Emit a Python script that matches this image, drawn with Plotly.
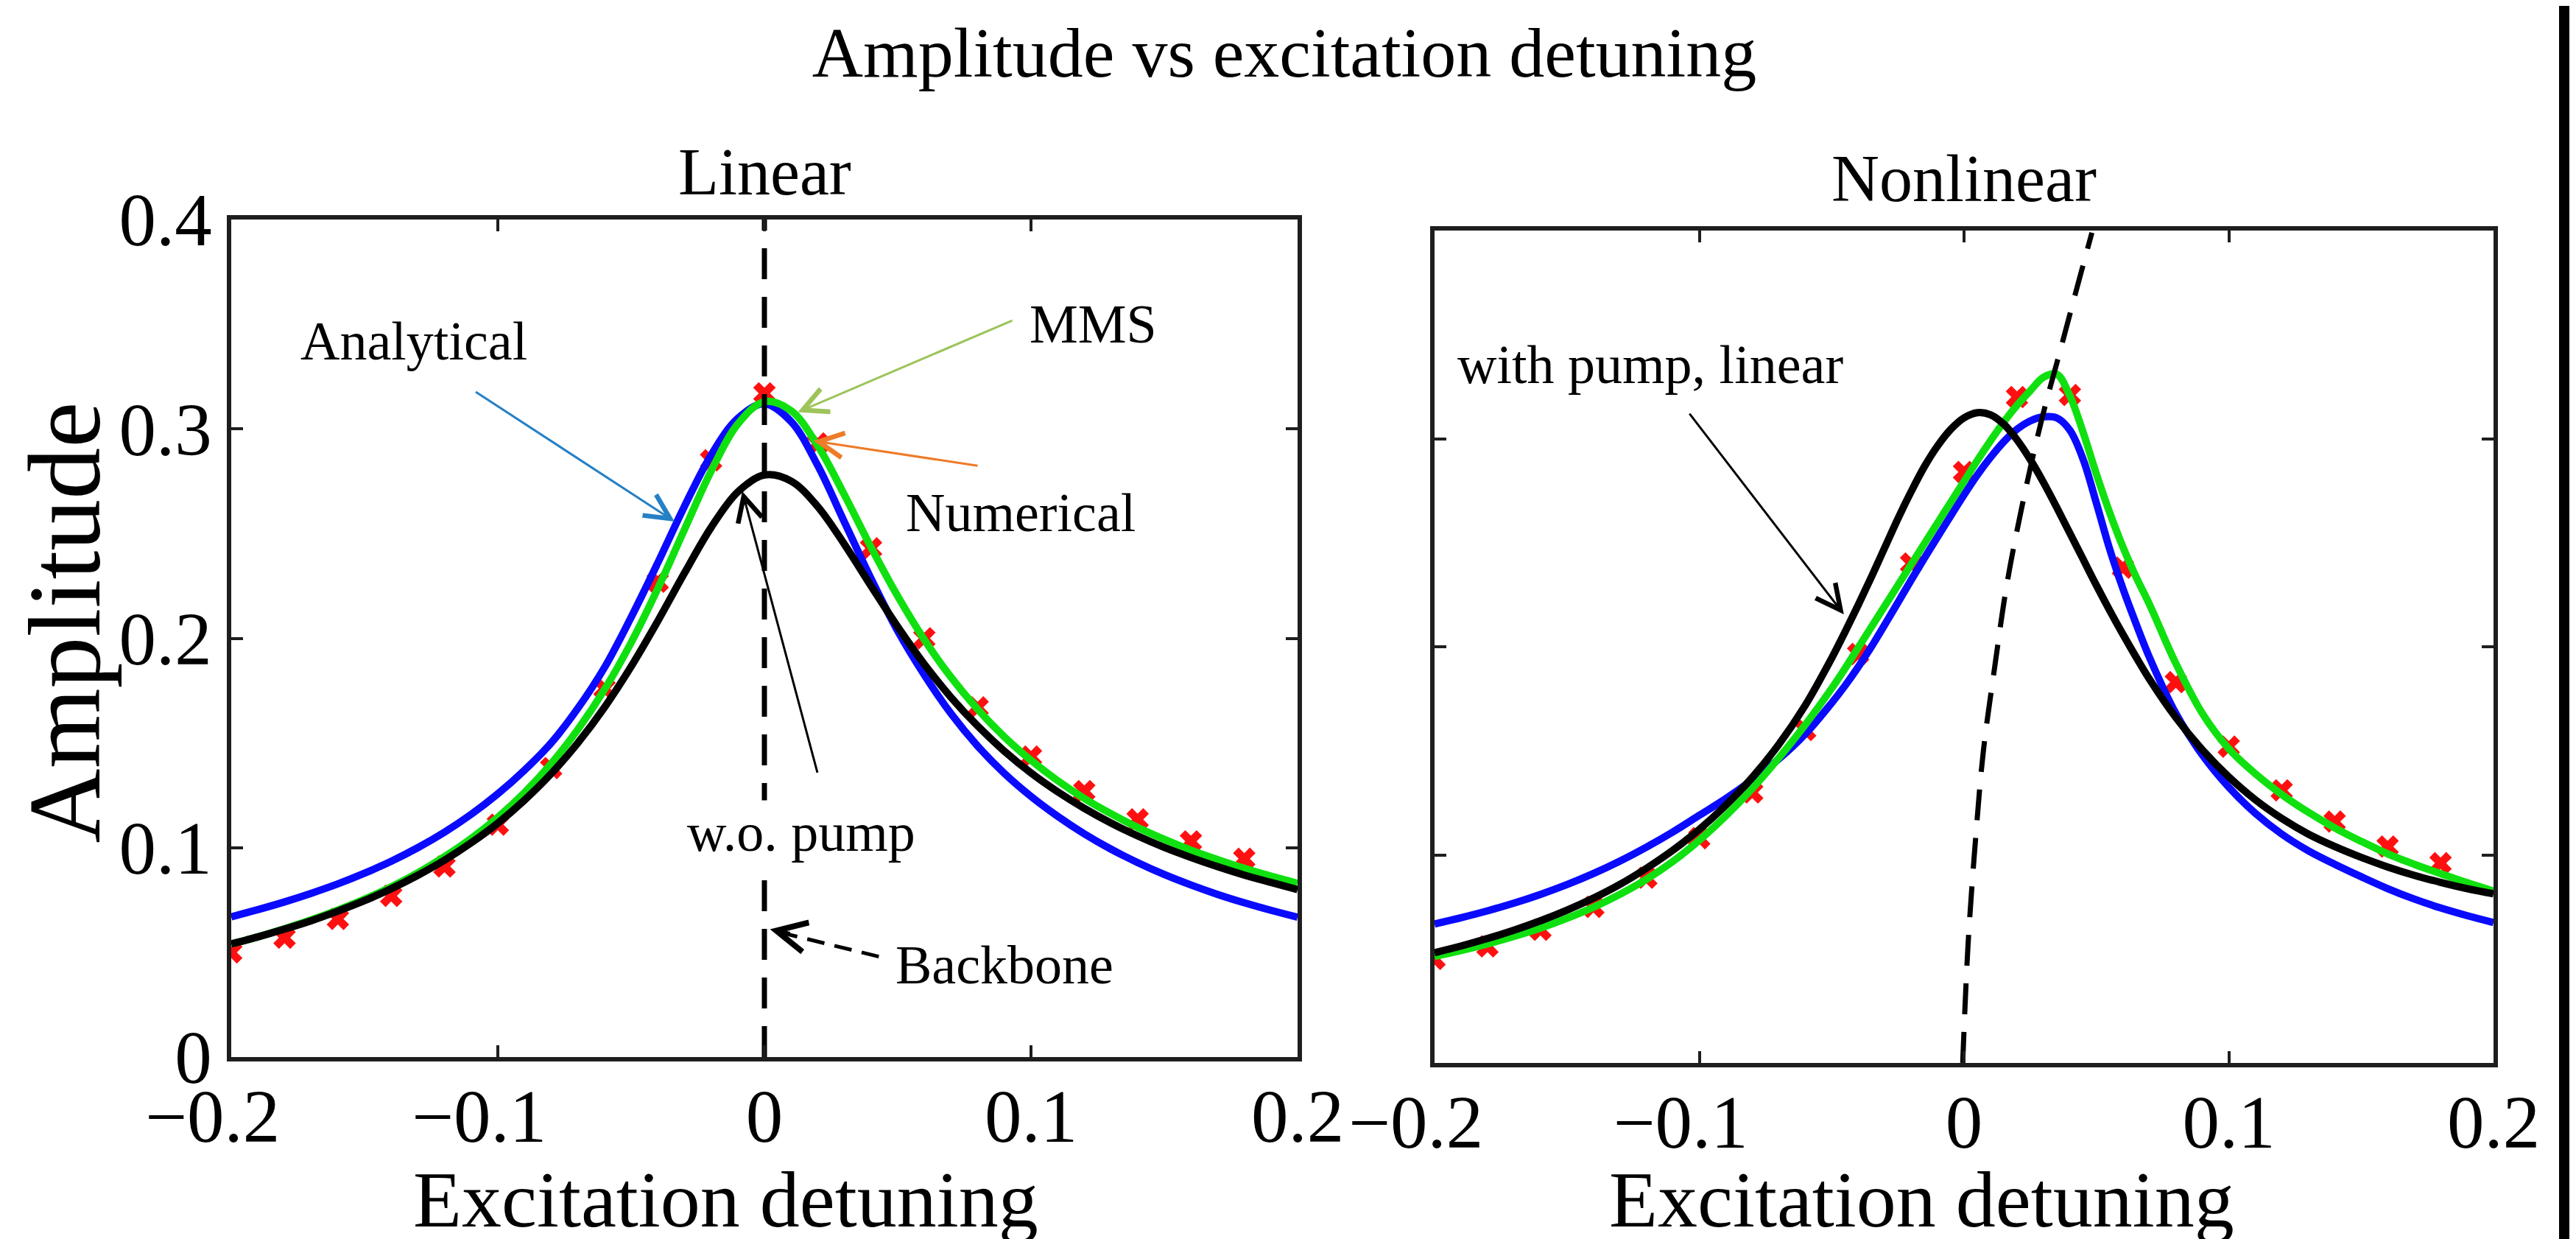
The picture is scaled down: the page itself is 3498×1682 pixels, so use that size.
import plotly.graph_objects as go

# ------------------------------------------------------------------
# Data
# ------------------------------------------------------------------
# Linear panel: detuning grid of the curves
x_lin = [-0.20, -0.19, -0.18, -0.17, -0.16, -0.15, -0.14, -0.13, -0.12, -0.11,
         -0.10, -0.09, -0.08, -0.07, -0.06, -0.05, -0.04, -0.03, -0.02, -0.01,
         0.00, 0.01, 0.02, 0.03, 0.04, 0.05, 0.06, 0.07, 0.08, 0.09,
         0.10, 0.11, 0.12, 0.13, 0.14, 0.15, 0.16, 0.17, 0.18, 0.19, 0.20]

analytical_lin = [0.0670, 0.0704, 0.0741, 0.0782, 0.0827, 0.0878, 0.0935, 0.1000, 0.1074, 0.1159,
                  0.1257, 0.1370, 0.1500, 0.1665, 0.1860, 0.2100, 0.2360, 0.2630, 0.2875, 0.3050,
                  0.3120, 0.3035, 0.2825, 0.2555, 0.2285, 0.2035, 0.1825, 0.1640, 0.1485, 0.1355,
                  0.1245, 0.1150, 0.1066, 0.0993, 0.0929, 0.0872, 0.0822, 0.0777, 0.0737, 0.0701, 0.0668]

mms_lin = [0.0540, 0.0574, 0.0613, 0.0655, 0.0702, 0.0754, 0.0813, 0.0880, 0.0957, 0.1044,
           0.1145, 0.1263, 0.1401, 0.1564, 0.1755, 0.1979, 0.2237, 0.2519, 0.2798, 0.3023,
           0.3130, 0.3087, 0.2920, 0.2685, 0.2435, 0.2201, 0.1993, 0.1814, 0.1661, 0.1529,
           0.1417, 0.1320, 0.1235, 0.1162, 0.1097, 0.1040, 0.0988, 0.0943, 0.0901, 0.0864, 0.0830]

wo_pump_lin = [0.0540, 0.0574, 0.0611, 0.0651, 0.0697, 0.0747, 0.0804, 0.0868, 0.0940, 0.1023,
               0.1117, 0.1227, 0.1353, 0.1500, 0.1670, 0.1865, 0.2082, 0.2311, 0.2529, 0.2699,
               0.2780, 0.2751, 0.2629, 0.2449, 0.2250, 0.2055, 0.1876, 0.1718, 0.1581, 0.1461,
               0.1357, 0.1267, 0.1188, 0.1118, 0.1056, 0.1001, 0.0953, 0.0909, 0.0869, 0.0834, 0.0800]

# Numerical (red crosses), same detunings in both panels
x_num = [-0.20, -0.18, -0.16, -0.14, -0.12, -0.10, -0.08, -0.06, -0.04, -0.02,
         0.00, 0.02, 0.04, 0.06, 0.08, 0.10, 0.12, 0.14, 0.16, 0.18]
numerical_lin = [0.0500, 0.0570, 0.0660, 0.0770, 0.0910, 0.1110, 0.1380, 0.1760, 0.2270, 0.2850,
                 0.3170, 0.2930, 0.2430, 0.2000, 0.1670, 0.1435, 0.1270, 0.1135, 0.1030, 0.0947]

backbone_lin_x = [0.0, 0.0]
backbone_lin_y = [0.0, 0.4]

# Nonlinear panel
x_nl = [-0.20, -0.19, -0.18, -0.17, -0.16, -0.15, -0.14, -0.13, -0.12, -0.11,
        -0.10, -0.09, -0.08, -0.07, -0.06,
        -0.050, -0.045, -0.040, -0.035, -0.030, -0.025, -0.020, -0.015, -0.010, -0.005,
        0.000, 0.005, 0.010, 0.015, 0.020, 0.025, 0.030, 0.035, 0.040, 0.045,
        0.050, 0.055, 0.060, 0.065, 0.070,
        0.08, 0.09, 0.10, 0.11, 0.12, 0.13, 0.14, 0.15, 0.16, 0.17, 0.18, 0.19, 0.20]

analytical_nl = [0.0668, 0.0698, 0.0731, 0.0768, 0.0810, 0.0857, 0.0910, 0.0970, 0.1037, 0.1110,
                 0.1190, 0.1270, 0.1360, 0.1460, 0.1580,
                 0.1730, 0.1812, 0.1902, 0.2000, 0.2105, 0.2212, 0.2320, 0.2425, 0.2528, 0.2630,
                 0.2730, 0.2825, 0.2910, 0.2985, 0.3045, 0.3085, 0.3105, 0.3100, 0.3040, 0.2900,
                 0.2690, 0.2470, 0.2280, 0.2110, 0.1950,
                 0.1680, 0.1480, 0.1325, 0.1200, 0.1100, 0.1020, 0.0955, 0.0895, 0.0838, 0.0788,
                 0.0745, 0.0708, 0.0675]

mms_nl = [0.0512, 0.0540, 0.0572, 0.0608, 0.0648, 0.0695, 0.0748, 0.0810, 0.0882, 0.0968,
          0.1070, 0.1187, 0.1318, 0.1465, 0.1625,
          0.1800, 0.1895, 0.1995, 0.2095, 0.2195, 0.2295, 0.2395, 0.2495, 0.2595, 0.2695,
          0.2795, 0.2895, 0.2990, 0.3080, 0.3160, 0.3230, 0.3295, 0.3310, 0.3205, 0.3030,
          0.2830, 0.2645, 0.2480, 0.2335, 0.2205,
          0.1920, 0.1680, 0.1510, 0.1390, 0.1290, 0.1205, 0.1130, 0.1065, 0.1005, 0.0955,
          0.0910, 0.0866, 0.0826]

pump_linear_nl = [0.0530, 0.0562, 0.0598, 0.0638, 0.0683, 0.0734, 0.0792, 0.0858, 0.0935, 0.1022,
                  0.1122, 0.1238, 0.1372, 0.1530, 0.1718,
                  0.1945, 0.2070, 0.2200, 0.2335, 0.2475, 0.2615, 0.2745, 0.2865, 0.2965, 0.3045,
                  0.3100, 0.3125, 0.3115, 0.3070, 0.2995, 0.2900, 0.2790, 0.2670, 0.2545, 0.2420,
                  0.2295, 0.2175, 0.2060, 0.1950, 0.1845,
                  0.1660, 0.1505, 0.1375, 0.1265, 0.1175, 0.1100, 0.1040, 0.0988, 0.0942, 0.0902,
                  0.0868, 0.0838, 0.0813]

numerical_nl = [0.0500, 0.0560, 0.0640, 0.0750, 0.0890, 0.1080, 0.1300, 0.1600, 0.1965, 0.2400,
                0.2840, 0.3200, 0.3210, 0.2380, 0.1830, 0.1520, 0.1310, 0.1160, 0.1040, 0.0960]

backbone_nl_x = [-0.0005, 0.0015, 0.0044, 0.0073, 0.0117, 0.0161, 0.0219, 0.0293, 0.0366, 0.0424, 0.0483]
backbone_nl_y = [0.0000, 0.0564, 0.1083, 0.1498, 0.1913, 0.2294, 0.2675, 0.3090, 0.3436, 0.3713, 0.3990]

x_tick_vals = [-0.2, -0.1, 0.0, 0.1, 0.2]
x_tick_text = ["\u22120.2\u2002", "\u22120.1\u2002", "0", "0.1", "0.2"]
y_tick_vals = [0.0, 0.1, 0.2, 0.3, 0.4]
y_tick_text = ["0", "0.1", "0.2", "0.3", "0.4"]

# ------------------------------------------------------------------
# Styling
# ------------------------------------------------------------------
FONT = "Liberation Serif, Times New Roman, serif"
W, H = 3498, 1682
ML, MR, MT, MB = 306, 120, 290, 247
BLUE = "#0a0aff"
GREEN = "#10e010"
RED = "#ff1010"
LW = 10
DASH = "42px,24px"

fig = go.Figure()

panels = [
    ("x", "y", x_lin, analytical_lin, mms_lin, wo_pump_lin, numerical_lin, backbone_lin_x, backbone_lin_y),
    ("x2", "y2", x_nl, analytical_nl, mms_nl, pump_linear_nl, numerical_nl, backbone_nl_x, backbone_nl_y),
]
for xa, ya, xs, blue, green, black, red, bbx, bby in panels:
    fig.add_trace(go.Scatter(x=x_num, y=red, mode="markers", xaxis=xa, yaxis=ya,
                             marker=dict(symbol="x", size=27, color=RED), showlegend=False))
    fig.add_trace(go.Scatter(x=xs, y=blue, mode="lines", xaxis=xa, yaxis=ya, line_shape="spline",
                             line=dict(color=BLUE, width=LW), showlegend=False))
    fig.add_trace(go.Scatter(x=xs, y=green, mode="lines", xaxis=xa, yaxis=ya, line_shape="spline",
                             line=dict(color=GREEN, width=LW), showlegend=False))
    fig.add_trace(go.Scatter(x=xs, y=black, mode="lines", xaxis=xa, yaxis=ya, line_shape="spline",
                             line=dict(color="black", width=LW), showlegend=False))
    fig.add_trace(go.Scatter(x=bbx, y=bby, mode="lines", xaxis=xa, yaxis=ya, line_shape="spline",
                             line=dict(color="black", width=7, dash=DASH), showlegend=False))

axis_common = dict(showline=True, mirror="ticks", linewidth=6, linecolor="#1e1e1e",
                   ticks="inside", ticklen=16, tickwidth=4, tickcolor="#1e1e1e",
                   showgrid=False, zeroline=False,
                   tickfont=dict(family=FONT, size=101, color="black"))

plot_w = W - ML - MR
plot_h = H - MT - MB

fig.update_layout(
    width=W, height=H,
    margin=dict(l=ML, r=MR, t=MT, b=MB, autoexpand=False),
    paper_bgcolor="white", plot_bgcolor="white",
    font=dict(family=FONT, color="black"),
    title=dict(text="Amplitude vs excitation detuning", x=1736 / W, xref="container", xanchor="center",
               y=1 - 62 / H, yref="container", yanchor="middle",
               font=dict(family=FONT, size=96, color="black")),
    xaxis=dict(domain=[0, 1448 / plot_w], range=[-0.2, 0.2], tickvals=x_tick_vals, ticktext=x_tick_text,
               ticklabelstandoff=-12, anchor="y", **axis_common),
    yaxis=dict(domain=[(1435 - 1427) / plot_h, 1], range=[0, 0.4], tickvals=y_tick_vals, ticktext=y_tick_text,
               anchor="x", **axis_common),
    xaxis2=dict(domain=[(1940 - ML) / plot_w, 1], range=[-0.2, 0.2], tickvals=x_tick_vals, ticktext=x_tick_text,
                ticklabelstandoff=-12, anchor="y2", **axis_common),
    yaxis2=dict(domain=[0, (1435 - 305) / plot_h], range=[0, 0.4], tickvals=y_tick_vals,
                showticklabels=False, anchor="x2", **axis_common),
)

ann_font = dict(family=FONT, size=74, color="black")
title_font = dict(family=FONT, size=108, color="black")
annotations = [
    # panel titles
    dict(text="Linear", xref="x domain", yref="y domain", x=0.5, y=1, xanchor="center", yanchor="bottom",
         yshift=13, showarrow=False, font=dict(family=FONT, size=90, color="black")),
    dict(text="Nonlinear", xref="x2 domain", yref="y2 domain", x=0.5, y=1, xanchor="center", yanchor="bottom",
         yshift=19, showarrow=False, font=dict(family=FONT, size=90, color="black")),
    # axis titles
    dict(text="Excitation detuning", xref="x domain", yref="paper", x=0.464, y=-MB / plot_h,
         xanchor="center", yanchor="bottom", showarrow=False, font=title_font),
    dict(text="Excitation detuning", xref="x2 domain", yref="paper", x=0.46, y=-MB / plot_h,
         xanchor="center", yanchor="bottom", showarrow=False, font=title_font),
    dict(text="Amplitude", xref="paper", yref="y domain", x=-ML / plot_w, y=0.519, textangle=-90,
         xanchor="left", yanchor="middle", showarrow=False, font=dict(family=FONT, size=140, color="black")),
    # labels, left panel
    dict(text="Analytical", xref="x", yref="y", x=-0.1315, y=0.342, showarrow=False, font=ann_font),
    dict(text="MMS", xref="x", yref="y", x=0.1234, y=0.350, showarrow=False, font=ann_font),
    dict(text="Numerical", xref="x", yref="y", x=0.096, y=0.260, showarrow=False, font=ann_font),
    dict(text="w.o. pump", xref="x", yref="y", x=0.0139, y=0.1074, showarrow=False, font=ann_font,
         bgcolor="white", borderpad=2),
    dict(text="Backbone", xref="x", yref="y", x=0.090, y=0.044, showarrow=False, font=ann_font),
    # arrows, left panel
    dict(text="", xref="x", yref="y", axref="x", ayref="y", x=-0.0337, y=0.2558, ax=-0.1087, ay=0.318,
         showarrow=True, arrowhead=5, arrowsize=2.2, arrowwidth=3, arrowcolor="#2580c6"),
    dict(text="", xref="x", yref="y", axref="x", ayref="y", x=0.0125, y=0.308, ax=0.0934, ay=0.352,
         showarrow=True, arrowhead=5, arrowsize=2.2, arrowwidth=3, arrowcolor="#9cc45a"),
    dict(text="", xref="x", yref="y", axref="x", ayref="y", x=0.0184, y=0.2943, ax=0.0804, ay=0.2823,
         showarrow=True, arrowhead=5, arrowsize=2.2, arrowwidth=3, arrowcolor="#ee7b27"),
    dict(text="", xref="x", yref="y", axref="x", ayref="y", x=-0.0083, y=0.2702, ax=0.020, ay=0.1353,
         showarrow=True, arrowhead=5, arrowsize=2.2, arrowwidth=3, arrowcolor="black"),
    dict(text="", xref="x", yref="y", axref="x", ayref="y", x=0.0021, y=0.061, ax=0.010, ay=0.0588,
         showarrow=True, arrowhead=5, arrowsize=1.6, arrowwidth=5, arrowcolor="black"),
    # right panel
    dict(text="with pump, linear", xref="x2", yref="y2", x=-0.1186, y=0.3356, showarrow=False, font=ann_font),
    dict(text="", xref="x2", yref="y2", axref="x2", ayref="y2", x=-0.0454, y=0.2156, ax=-0.104, ay=0.3125,
         showarrow=True, arrowhead=5, arrowsize=2.2, arrowwidth=3, arrowcolor="black"),
]
fig.update_layout(annotations=annotations)

shapes = [
    # dashed shaft of the "Backbone" arrow
    dict(type="line", xref="x", yref="y", x0=0.0429, y0=0.048, x1=0.006, y1=0.0595,
         line=dict(color="black", width=5, dash="24px,14px")),
    # black bar at the right edge of the picture
    dict(type="rect", xref="paper", yref="paper",
         x0=(3467 - ML) / plot_w, x1=(3481 - ML) / plot_w,
         y0=-MB / plot_h, y1=1 + MT / plot_h,
         fillcolor="black", line=dict(width=0), layer="above"),
]
fig.update_layout(shapes=shapes)

fig.write_html("out.html")
